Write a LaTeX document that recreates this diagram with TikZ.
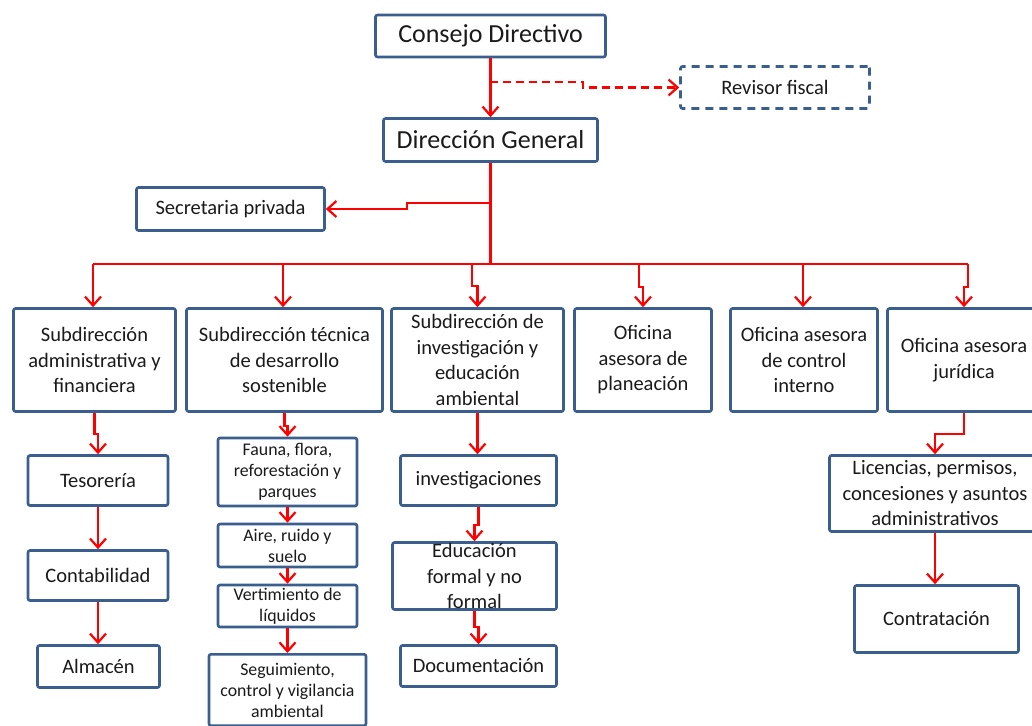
\documentclass[tikz,border=0pt]{standalone}
\usepackage{fontspec}
\setmainfont{Carlito}
\usetikzlibrary{arrows.meta}
\definecolor{boxblue}{HTML}{3A5F8E}
\definecolor{txt}{HTML}{1A1A1A}
\tikzset{
  box/.style={draw=boxblue, line width=2.6pt, rounded corners=2pt, fill=white,
    align=center, inner sep=0pt, text=txt, font=\fontsize{20.5}{25.5}\selectfont},
  small/.style={font=\fontsize{17.8}{21}\selectfont},
  big/.style={font=\fontsize{26}{31}\selectfont},
  conn/.style={draw=red, line width=2.2pt},
  arr/.style={conn, -{Straight Barb[length=9pt,width=16pt]}},
  dashbox/.style={box, dash pattern=on 8pt off 6pt},
}
\begin{document}
\begin{tikzpicture}[x=1pt,y=-1pt]
\useasboundingbox (0,0) rectangle (1032,725);
\clip (0,0) rectangle (1032,725);
\fill[white] (0,0) rectangle (1032,725);

% top levels
\node[box, big, minimum width=230, minimum height=42] (cd) at (490.5,36) {Consejo Directivo};
\node[dashbox, minimum width=189, minimum height=42] (rf) at (775,87.5) {Revisor fiscal};
\node[box, big, minimum width=214, minimum height=43] (dg) at (490.5,140) {Dirección General};
\node[box, minimum width=188, minimum height=43] (sp) at (230.5,209) {Secretaria privada};

% second row
\node[box, minimum width=162, minimum height=103] (sa) at (94.5,360) {Subdirección\\administrativa y\\financiera};
\node[box, minimum width=196, minimum height=103] (st) at (284.5,360) {Subdirección técnica\\de desarrollo\\sostenible};
\node[box, minimum width=172, minimum height=103] (sd) at (477.5,360) {Subdirección de\\investigación y\\educación\\ambiental};
\node[box, minimum width=137, minimum height=103] (op) at (643,360) {Oficina\\asesora de\\planeación};
\node[box, minimum width=147, minimum height=103] (oc) at (804,360) {Oficina asesora\\de control\\interno};
\node[box, minimum width=153, minimum height=103] (oj) at (964,360) {Oficina asesora\\jurídica};

% administrative branch
\node[box, minimum width=140, minimum height=50] (tes) at (98,480.5) {Tesorería};
\node[box, minimum width=140, minimum height=50] (cont) at (98,575.5) {Contabilidad};
\node[box, minimum width=122, minimum height=42] (alm) at (98.5,666.5) {Almacén};

% technical branch
\node[box, small, minimum width=139, minimum height=68] (fa) at (287.5,472) {Fauna, flora,\\reforestación y\\parques};
\node[box, small, minimum width=139, minimum height=43] (ai) at (287.5,545.5) {Aire, ruido y\\suelo};
\node[box, small, minimum width=139, minimum height=42] (ve) at (287.5,606) {Vertimiento de\\líquidos};
\node[box, small, anchor=north, minimum width=157, inner sep=8.5pt] (se) at (287.5,653) {Seguimiento,\\control y vigilancia\\ambiental};

% research branch
\node[box, minimum width=156, minimum height=50] (inv) at (478.5,480.5) {investigaciones};
\node[box, minimum width=164, minimum height=67,
  label={[align=center, text=txt, font=\fontsize{20.5}{25.5}\selectfont]center:Educación\\formal y no\\formal}] (edu) at (474.5,576) {};
\node[box, minimum width=156, minimum height=41] (doc) at (478.5,666) {Documentación};

% legal branch
\node[box, minimum width=211, minimum height=76] (lic) at (935,493.5) {Licencias, permisos,\\concesiones y asuntos\\administrativos};
\node[box, minimum width=164, minimum height=67] (con) at (936.5,619) {Contratación};

% connectors from the top
\draw[arr] (cd.south) -- (dg.north);
\coordinate (rbr) at (490,82);
\draw[arr, dash pattern=on 8pt off 5pt] (rbr) -- ++(93,0) |- (rf.west);
\coordinate (sbr) at (490,203);
\draw[arr] (sbr) -- ++(-83,0) |- (sp.east);

% bus
\coordinate (t1) at (93,264);
\coordinate (t2) at (283,264);
\coordinate (t3) at (472,264);
\coordinate (t4) at (639,264);
\coordinate (t5) at (803,264);
\coordinate (t6) at (968,264);
\draw[conn] (dg.south) -- (dg.south |- t1);
\draw[conn] (t1) -- (t6);
\draw[arr] (t1) -- (t1 |- sa.north);
\draw[arr] (t2) -- (t2 |- st.north);
\draw[arr] (t3) -- ++(0,22) -| (sd.north);
\draw[arr] (t4) -- ++(0,23) -| (op.north);
\draw[arr] (t5) -- (t5 |- oc.north);
\draw[arr] (t6) -- ++(0,23) -| (oj.north);

% lower connectors
\draw[arr] (sa.south) -- ++(0,21) -| (tes.north);
\draw[arr] (tes.south) -- (cont.north);
\draw[arr] (cont.south) -- (cont.south |- alm.north);

\draw[arr] (st.south) -- ++(0,13) -| (fa.north);
\draw[arr] (fa.south) -- (ai.north);
\draw[arr] (ai.south) -- (ve.north);
\draw[arr] (ve.south) -- (se.north);

\draw[arr] (sd.south) -- (sd.south |- inv.north);
\draw[arr] (inv.south) -- ++(0,18) -| (edu.north);
\draw[arr] (edu.south) -- ++(0,16) -| (doc.north);

\draw[arr] (oj.south) -- ++(0,21) -| (lic.north);
\draw[arr] (lic.south) -- (lic.south |- con.north);
\end{tikzpicture}
\end{document}
